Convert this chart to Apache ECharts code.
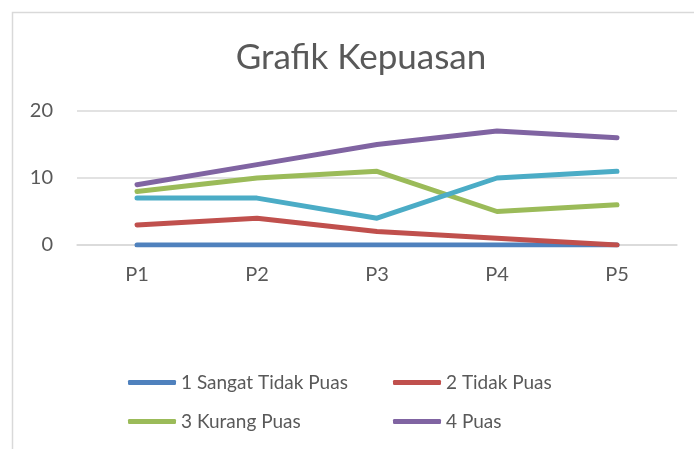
<!DOCTYPE html>
<html>
<head>
<meta charset="utf-8">
<script src="https://cdn.jsdelivr.net/npm/echarts@6/dist/echarts.min.js"></script>
<style>
html,body{margin:0;padding:0;background:#fff;}
#c{width:694px;height:449px;}
</style>
</head>
<body>
<div id="c"></div>
<script>
const categories = ['P1', 'P2', 'P3', 'P4', 'P5'];
const seriesNames = ['1 Sangat Tidak Puas', '2 Tidak Puas', '3 Kurang Puas', '4 Puas', '5 Sangat Puas'];
const sangatTidakPuas = [0, 0, 0, 0, 0];
const tidakPuas = [3, 4, 2, 1, 0];
const kurangPuas = [8, 10, 11, 5, 6];
const puas = [9, 12, 15, 17, 16];
const sangatPuas = [7, 7, 4, 10, 11];
const colors = ['#4F81BD', '#C0504D', '#9BBB59', '#8064A2', '#4BACC6'];
const yTicks = { min: 0, max: 20, interval: 10 };

const FONT = 'Lato';
const values = [sangatTidakPuas, tidakPuas, kurangPuas, puas, sangatPuas];

const chart = echarts.init(document.getElementById('c'), null, { renderer: 'canvas' });
const legendText = { fontFamily: FONT, fontSize: 19, color: '#595959' };
const legendCommon = {
  orient: 'vertical', icon: 'roundRect', itemWidth: 48, itemHeight: 5,
  itemGap: 20, textStyle: legendText, selectedMode: false, padding: 0
};
chart.setOption({
  animation: false,
  backgroundColor: '#fff',
  title: {
    text: 'Grafik Kepuasan', left: 356, top: 35, textAlign: 'center',
    textStyle: { fontFamily: FONT, fontSize: 35, fontWeight: 'normal', color: '#595959' }
  },
  graphic: [{
    type: 'polyline',
    shape: { points: [[12.5, 460], [12.5, 12.5], [720, 12.5]] },
    style: { stroke: '#d9d9d9', lineWidth: 1.5, fill: null },
    silent: true
  }],
  legend: [
    Object.assign({ left: 128, top: 373, data: [seriesNames[0], seriesNames[2]] }, legendCommon),
    Object.assign({ left: 393, top: 373, data: [seriesNames[1], seriesNames[3]] }, legendCommon)
  ],
  grid: { left: 77, right: 17, top: 111, bottom: 204 },
  xAxis: {
    type: 'category', data: categories, boundaryGap: true,
    axisLine: { lineStyle: { color: '#d9d9d9', width: 1.5 } },
    axisTick: { show: false },
    axisLabel: { fontFamily: FONT, fontSize: 20, color: '#595959', margin: 20 }
  },
  yAxis: {
    type: 'value', min: yTicks.min, max: yTicks.max, interval: yTicks.interval,
    axisLine: { show: false }, axisTick: { show: false },
    splitLine: { lineStyle: { color: '#d9d9d9', width: 1.5 } },
    axisLabel: { fontFamily: FONT, fontSize: 20, color: '#595959', margin: 24 }
  },
  series: values.map((v, i) => ({
    name: seriesNames[i], type: 'line', data: v, color: colors[i],
    symbol: 'none', showSymbol: false,
    lineStyle: { width: 5, cap: 'round', join: 'round', color: colors[i] },
    itemStyle: { color: colors[i] }
  }))
});
</script>
</body>
</html>
